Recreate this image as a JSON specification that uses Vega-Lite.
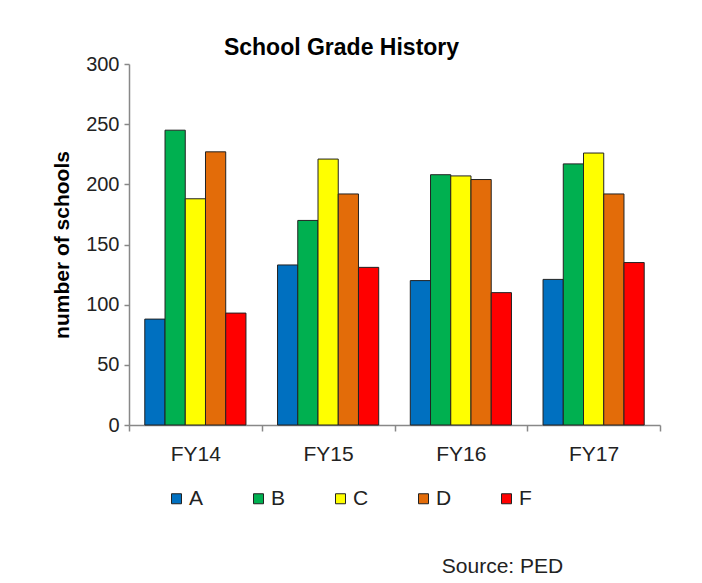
{
  "$schema": "https://vega.github.io/schema/vega-lite/v6.json",
  "width": 531,
  "height": 361,
  "autosize": "none",
  "padding": {"left": 129, "top": 64, "right": 42, "bottom": 158},
  "background": "white",
  "title": {
    "text": "School Grade History",
    "fontSize": 23,
    "fontWeight": "bold",
    "font": "Liberation Sans",
    "color": "#000000",
    "anchor": "middle",
    "frame": "group",
    "dx": -53,
    "offset": -6
  },
  "data": {
    "values": [
      {"year": "FY14", "grade": "A", "schools": 88},
      {"year": "FY14", "grade": "B", "schools": 245},
      {"year": "FY14", "grade": "C", "schools": 188},
      {"year": "FY14", "grade": "D", "schools": 227},
      {"year": "FY14", "grade": "F", "schools": 93},
      {"year": "FY15", "grade": "A", "schools": 133},
      {"year": "FY15", "grade": "B", "schools": 170},
      {"year": "FY15", "grade": "C", "schools": 221},
      {"year": "FY15", "grade": "D", "schools": 192},
      {"year": "FY15", "grade": "F", "schools": 131},
      {"year": "FY16", "grade": "A", "schools": 120},
      {"year": "FY16", "grade": "B", "schools": 208},
      {"year": "FY16", "grade": "C", "schools": 207},
      {"year": "FY16", "grade": "D", "schools": 204},
      {"year": "FY16", "grade": "F", "schools": 110},
      {"year": "FY17", "grade": "A", "schools": 121},
      {"year": "FY17", "grade": "B", "schools": 217},
      {"year": "FY17", "grade": "C", "schools": 226},
      {"year": "FY17", "grade": "D", "schools": 192},
      {"year": "FY17", "grade": "F", "schools": 135}
    ]
  },
  "mark": {"type": "bar", "stroke": "#222222", "strokeWidth": 1},
  "encoding": {
    "x": {
      "field": "year",
      "type": "nominal",
      "scale": {"paddingInner": 0, "paddingOuter": 0},
      "axis": {
        "title": "Source: PED",
        "titleFont": "Liberation Sans",
        "titleFontSize": 21,
        "titleFontWeight": "normal",
        "titleColor": "#222222",
        "titleX": 373,
        "titleY": 147,
        "titleAlign": "center",
        "titleBaseline": "alphabetic",
        "labelAngle": 0,
        "labelFont": "Liberation Sans",
        "labelFontSize": 21,
        "labelColor": "#222222",
        "labelPadding": 12,
        "tickBand": "extent",
        "tickSize": 6,
        "tickColor": "#888888",
        "domainColor": "#888888",
        "domainWidth": 1.5,
        "tickWidth": 1.5
      }
    },
    "xOffset": {"field": "grade", "type": "nominal", "scale": {"paddingInner": 0, "paddingOuter": 0.78}},
    "y": {
      "field": "schools",
      "type": "quantitative",
      "scale": {"domain": [0, 300]},
      "axis": {
        "title": "number of schools",
        "titleFont": "Liberation Sans",
        "titleFontSize": 21,
        "titleFontWeight": "bold",
        "titleColor": "#000000",
        "titlePadding": 13,
        "values": [0, 50, 100, 150, 200, 250, 300],
        "labelFont": "Liberation Sans",
        "labelFontSize": 20,
        "labelColor": "#222222",
        "labelPadding": 5,
        "grid": false,
        "tickSize": 5,
        "tickColor": "#888888",
        "domainColor": "#888888",
        "domainWidth": 1.5,
        "tickWidth": 1.5
      }
    },
    "color": {
      "field": "grade",
      "type": "nominal",
      "scale": {
        "domain": ["A", "B", "C", "D", "F"],
        "range": ["#0070C0", "#00B050", "#FFFF00", "#E36C09", "#FF0000"]
      },
      "legend": {
        "title": null,
        "orient": "none",
        "legendX": 37,
        "legendY": 424,
        "direction": "horizontal",
        "columns": 5,
        "columnPadding": 44,
        "symbolType": "square",
        "symbolSize": 100,
        "symbolStrokeColor": "#222222",
        "symbolStrokeWidth": 1,
        "labelFont": "Liberation Sans",
        "labelFontSize": 21,
        "labelColor": "#222222",
        "labelOffset": 2
      }
    }
  },
  "config": {
    "view": {"stroke": null}
  }
}
